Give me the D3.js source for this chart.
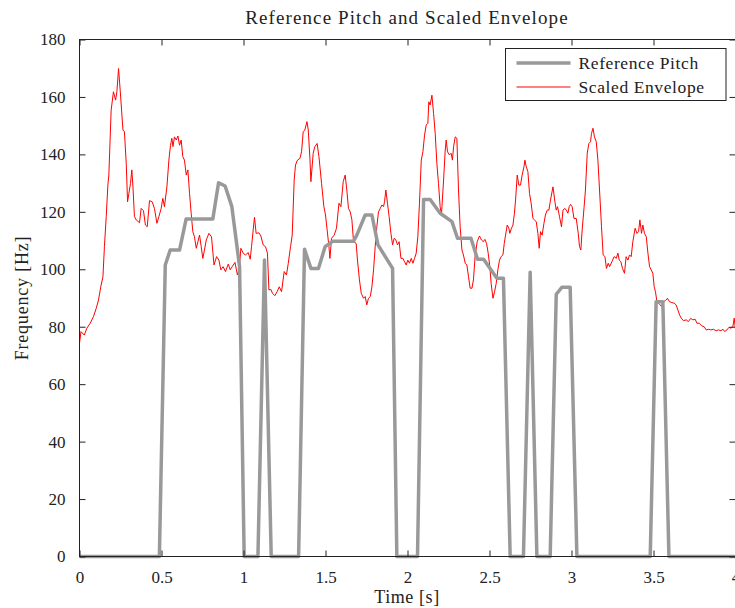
<!DOCTYPE html>
<html>
<head>
<meta charset="utf-8">
<script src="https://cdn.jsdelivr.net/npm/d3@7"></script>
<style>
  body { margin: 0; background: #fff; }
  text { font-family: "Liberation Serif", "Times New Roman", serif; fill: #222; }
</style>
</head>
<body>
<figure id="chart" style="margin:0"></figure>
<script>
// reference pitch track (vertices of the step-like line)
const pitchTime = [0, 0.487, 0.523, 0.553, 0.61, 0.65, 0.813, 0.848, 0.888, 0.929, 0.976, 1.004,
  1.088, 1.128, 1.169, 1.336, 1.372, 1.411, 1.457, 1.498, 1.545, 1.671, 1.691, 1.742, 1.783,
  1.82, 1.909, 1.935, 2.061, 2.098, 2.138, 2.199, 2.271, 2.305, 2.387, 2.427, 2.464, 2.545,
  2.585, 2.626, 2.707, 2.748, 2.789, 2.87, 2.907, 2.941, 2.992, 3.033, 3.48, 3.516, 3.557,
  3.594, 4.0];
const pitchHz = [0, 0, 101.5, 106.7, 106.7, 117.5, 117.5, 130.1, 129, 121.8, 101, 0,
  0, 103.2, 0, 0, 107, 100.3, 100.3, 107.9, 109.8, 109.8, 111.9, 118.9, 118.9,
  108.5, 100.3, 0, 0, 124.3, 124.3, 119.5, 116.6, 110.8, 110.8, 103.5, 103.5, 96.9,
  96.9, 0, 0, 99, 0, 0, 91.3, 93.7, 93.7, 0, 0, 88.7, 88.7,
  0, 0];

// scaled envelope
const envTime = [0, 0.009, 0.029, 0.045, 0.065, 0.085, 0.102, 0.116, 0.13, 0.143, 0.152, 0.163,
  0.173, 0.179, 0.193, 0.207, 0.22, 0.228, 0.238, 0.248, 0.265, 0.274, 0.285, 0.293, 0.301,
  0.311, 0.319, 0.326, 0.335, 0.346, 0.366, 0.376, 0.39, 0.402, 0.413, 0.427, 0.443, 0.457,
  0.472, 0.484, 0.498, 0.508, 0.518, 0.533, 0.545, 0.555, 0.563, 0.57, 0.579, 0.59, 0.6,
  0.61, 0.62, 0.63, 0.64, 0.651, 0.661, 0.671, 0.681, 0.691, 0.701, 0.712, 0.722, 0.732,
  0.742, 0.752, 0.762, 0.773, 0.789, 0.805, 0.82, 0.836, 0.85, 0.862, 0.876, 0.89, 0.907,
  0.919, 0.931, 0.948, 0.963, 0.974, 0.984, 0.998, 1.012, 1.029, 1.041, 1.049, 1.059, 1.067,
  1.077, 1.094, 1.106, 1.12, 1.134, 1.146, 1.155, 1.167, 1.177, 1.191, 1.205, 1.218, 1.232,
  1.248, 1.262, 1.273, 1.287, 1.297, 1.309, 1.317, 1.329, 1.344, 1.354, 1.364, 1.374, 1.387,
  1.395, 1.405, 1.411, 1.425, 1.435, 1.449, 1.46, 1.476, 1.49, 1.5, 1.51, 1.521, 1.527,
  1.537, 1.553, 1.567, 1.582, 1.594, 1.608, 1.62, 1.63, 1.64, 1.651, 1.661, 1.671, 1.687,
  1.695, 1.707, 1.718, 1.732, 1.742, 1.752, 1.762, 1.773, 1.783, 1.793, 1.803, 1.813, 1.823,
  1.834, 1.844, 1.854, 1.86, 1.868, 1.878, 1.888, 1.899, 1.909, 1.919, 1.929, 1.939, 1.949,
  1.96, 1.972, 1.982, 1.992, 2.002, 2.012, 2.023, 2.033, 2.043, 2.053, 2.063, 2.073, 2.084,
  2.094, 2.104, 2.114, 2.124, 2.13, 2.138, 2.149, 2.159, 2.169, 2.179, 2.189, 2.199, 2.207,
  2.22, 2.23, 2.236, 2.244, 2.256, 2.266, 2.274, 2.281, 2.291, 2.301, 2.311, 2.321, 2.332,
  2.341, 2.352, 2.362, 2.372, 2.382, 2.393, 2.402, 2.413, 2.425, 2.439, 2.451, 2.462, 2.472,
  2.482, 2.492, 2.502, 2.51, 2.521, 2.531, 2.541, 2.551, 2.561, 2.571, 2.582, 2.59, 2.598,
  2.608, 2.618, 2.624, 2.634, 2.643, 2.652, 2.659, 2.669, 2.679, 2.689, 2.699, 2.71, 2.716,
  2.724, 2.734, 2.744, 2.754, 2.765, 2.774, 2.785, 2.795, 2.803, 2.811, 2.821, 2.832, 2.841,
  2.852, 2.862, 2.872, 2.887, 2.899, 2.907, 2.915, 2.927, 2.939, 2.948, 2.96, 2.968, 2.978,
  2.986, 2.994, 3.004, 3.015, 3.029, 3.041, 3.049, 3.057, 3.065, 3.077, 3.085, 3.096, 3.106,
  3.116, 3.122, 3.131, 3.14, 3.151, 3.161, 3.171, 3.183, 3.193, 3.204, 3.213, 3.224, 3.232,
  3.246, 3.26, 3.273, 3.283, 3.291, 3.301, 3.311, 3.323, 3.333, 3.344, 3.354, 3.364, 3.374,
  3.388, 3.399, 3.409, 3.417, 3.427, 3.435, 3.445, 3.456, 3.466, 3.476, 3.486, 3.496, 3.504,
  3.512, 3.521, 3.531, 3.541, 3.549, 3.561, 3.573, 3.585, 3.598, 3.612, 3.626, 3.638, 3.649,
  3.659, 3.669, 3.683, 3.699, 3.713, 3.727, 3.74, 3.754, 3.765, 3.78, 3.795, 3.809, 3.821,
  3.835, 3.85, 3.866, 3.882, 3.896, 3.911, 3.924, 3.934, 3.948, 3.96, 3.972, 3.984, 3.992, 4.0];
const envHz = [74.2, 78.3, 77.1, 79.5, 81.2, 83.5, 86.4, 89.3, 94, 97.4, 107.9, 118.3,
  129.3, 132.8, 155.4, 161.8, 158.9, 161.8, 169.9, 162.4, 148.5, 147.9, 136.9, 123.5, 126.4,
  129.9, 134.6, 128.7, 118.3, 117.2, 116.2, 121.2, 120.4, 115.4, 114.8, 123.9, 123.5, 121.2,
  116, 118.3, 121.2, 124.7, 121.8, 128.7, 138, 143.2, 145.6, 142.7, 146.1, 145, 146.4,
  143.2, 145, 139.2, 138, 132.8, 134.6, 126.4, 119.5, 113.1, 111.3, 107.3, 109.6, 111.9,
  107.9, 103.8, 106.7, 110.2, 112.5, 111.3, 101.5, 104.4, 103.2, 99.8, 100.9, 99.2, 101.8,
  99.8, 100.9, 102.4, 98, 100.3, 107.3, 105.6, 105, 105.8, 103.5, 107.9, 113.7, 118.1,
  112.5, 112.7, 111.6, 108.5, 107.9, 105.6, 92.8, 93, 91.6, 90.8, 92.2, 93.9, 92.2,
  99.2, 98, 102.1, 107.9, 111.9, 131.1, 136.3, 138, 138.6, 140.9, 147.9, 148.5, 151.4,
  148.5, 138.6, 130.5, 140.4, 142.7, 143.8, 139.2, 129.9, 121.8, 118.9, 113.7, 107.9, 103.8,
  110.8, 111.9, 114.3, 123, 121.8, 130.5, 132.8, 127.6, 121.2, 120, 117.2, 109.6, 109,
  103.2, 96.3, 91.6, 89.9, 90.5, 87.6, 89.9, 90.5, 93.9, 99.8, 107.9, 114.8, 120,
  121.2, 122.4, 121.8, 123.5, 127.6, 123, 118.3, 112.5, 108.5, 110.8, 110.2, 108.5, 109.6,
  103.8, 103.8, 102.6, 101.5, 103.2, 102.1, 103.8, 102.1, 103.8, 105.6, 111.3, 123, 138,
  140.9, 146.7, 150.2, 150.8, 158.3, 157.2, 160.6, 154.3, 147.3, 136.9, 129.9, 121.8, 118.9,
  131.1, 141.5, 145, 140.9, 139.8, 140.4, 138, 142.7, 146.1, 145.6, 127.6, 114.8, 106.7,
  105, 102.1, 101.5, 97.4, 93.4, 93.4, 96.3, 105, 109.6, 111.6, 110.2, 109.6, 110.4,
  109, 105.6, 100.9, 95.1, 89.9, 92.2, 95.1, 99.8, 103.2, 104.4, 105, 109, 111.9,
  115.4, 114.3, 112.5, 114.3, 115.4, 119.5, 124.1, 132.8, 129.3, 129.3, 132.8, 135.7, 138,
  135.7, 134, 126.4, 123, 117.7, 117.2, 116.6, 112.5, 107.3, 113.1, 111.9, 116, 118.9,
  120.6, 120.6, 124.1, 128.7, 123.5, 120.6, 121.8, 118.3, 114.8, 120.6, 121.2, 120.6, 119.5,
  121.8, 122.6, 121.8, 117.7, 117.7, 112.5, 107.9, 106.7, 113.7, 121.8, 127.6, 140.4, 143.8,
  144.4, 147.3, 149.1, 146.1, 144.4, 138, 127.6, 114.8, 105, 104.4, 100.3, 102.1, 100.9,
  102.6, 104.4, 103.8, 105.6, 103.2, 102.6, 100.3, 98.6, 104.4, 103.2, 105, 104.4, 109.6,
  114.3, 112.5, 113.1, 117.2, 112.5, 115.4, 112.5, 111.3, 105.6, 100.9, 99.8, 98.6, 94,
  92.2, 88.7, 88.2, 87.6, 87, 88.7, 89.1, 89.9, 88.7, 88.4, 88.2, 87.6, 85.8,
  84.1, 83, 82.1, 82.4, 81.8, 82.9, 82.4, 82.6, 81.2, 81.2, 80.3, 80, 78.9,
  79.1, 78.9, 79.1, 78.6, 78.9, 78.6, 79.1, 78.3, 78.9, 79.8, 79.5, 80, 83, 79];

const xTicks = [0, 0.5, 1, 1.5, 2, 2.5, 3, 3.5, 4];
const yTicks = [0, 20, 40, 60, 80, 100, 120, 140, 160, 180];
const legendLabels = ["Reference Pitch", "Scaled Envelope"];

const W = 735, H = 608;
const margin = { top: 39.5, right: -0.5, bottom: 51.5, left: 79.5 };
const width = W - margin.left - margin.right;
const height = H - margin.top - margin.bottom;

const svg = d3.select("figure#chart")
  .append("svg")
  .attr("width", W)
  .attr("height", H);

const g = svg.append("g")
  .attr("transform", `translate(${margin.left},${margin.top})`);

const x = d3.scaleLinear().domain([0, 4]).range([0, width]);
const y = d3.scaleLinear().domain([0, 180]).range([height, 0]);

g.append("clipPath").attr("id", "plotclip")
  .append("rect").attr("width", width).attr("height", height);

const pitch = pitchTime.map((t, i) => ({ t: t, f: pitchHz[i] }));
const env = envTime.map((t, i) => ({ t: t, f: envHz[i] }));

const line = d3.line().x(d => x(d.t)).y(d => y(d.f));

g.append("path")
  .datum(env)
  .attr("clip-path", "url(#plotclip)")
  .attr("fill", "none")
  .attr("stroke", "#ff0000")
  .attr("stroke-width", 1)
  .attr("d", line);

g.append("path")
  .datum(pitch)
  .attr("fill", "none")
  .attr("stroke", "#999999")
  .attr("stroke-width", 3.5)
  .attr("stroke-linejoin", "round")
  .attr("d", line);

// axes: ticks pointing inward on all four sides
const tickLen = 6;
const styleAxis = sel => {
  sel.select(".domain").remove();
  sel.selectAll("line").attr("stroke", "#222");
  sel.selectAll("text").style("font-family", "Liberation Serif").style("font-size", "17px").attr("fill", "#222");
};

g.append("g")
  .attr("transform", `translate(0,${height})`)
  .call(d3.axisBottom(x).tickValues(xTicks).tickFormat(d3.format("")).tickSizeInner(-tickLen).tickPadding(14))
  .call(styleAxis);

g.append("g")
  .call(d3.axisTop(x).tickValues(xTicks).tickSizeInner(-tickLen).tickFormat(""))
  .call(styleAxis);

g.append("g")
  .call(d3.axisLeft(y).tickValues(yTicks).tickSizeInner(-tickLen).tickPadding(14))
  .call(styleAxis);

g.append("g")
  .attr("transform", `translate(${width},0)`)
  .call(d3.axisRight(y).tickValues(yTicks).tickSizeInner(-tickLen).tickFormat(""))
  .call(styleAxis);

g.append("rect")
  .attr("width", width)
  .attr("height", height)
  .attr("fill", "none")
  .attr("stroke", "#222")
  .attr("stroke-width", 1);

// title and axis labels
svg.append("text")
  .attr("x", 407).attr("y", 24)
  .attr("text-anchor", "middle")
  .style("font-size", "19px")
  .style("letter-spacing", "1.1px")
  .text("Reference Pitch and Scaled Envelope");

svg.append("text")
  .attr("x", 407).attr("y", 603)
  .attr("text-anchor", "middle")
  .style("font-size", "18px")
  .style("letter-spacing", "0.6px")
  .text("Time [s]");

svg.append("text")
  .attr("transform", "translate(28,298) rotate(-90)")
  .attr("text-anchor", "middle")
  .style("font-size", "18px")
  .style("letter-spacing", "0.8px")
  .text("Frequency [Hz]");

// legend
const legend = svg.append("g").attr("transform", "translate(505.5,48.5)");
legend.append("rect")
  .attr("width", 220.5).attr("height", 52)
  .attr("fill", "#fff").attr("stroke", "#222").attr("stroke-width", 1);

const legendStyles = [{ c: "#999999", w: 3.5 }, { c: "#ff0000", w: 1 }];
legendLabels.forEach((lab, i) => {
  const ly = 14.5 + i * 24;
  legend.append("line")
    .attr("x1", 11).attr("x2", 65).attr("y1", ly).attr("y2", ly)
    .attr("stroke", legendStyles[i].c).attr("stroke-width", legendStyles[i].w);
  legend.append("text")
    .attr("x", 73).attr("y", ly + 6)
    .style("font-size", "17.5px")
    .style("letter-spacing", "0.6px")
    .text(lab);
});
</script>
</body>
</html>
